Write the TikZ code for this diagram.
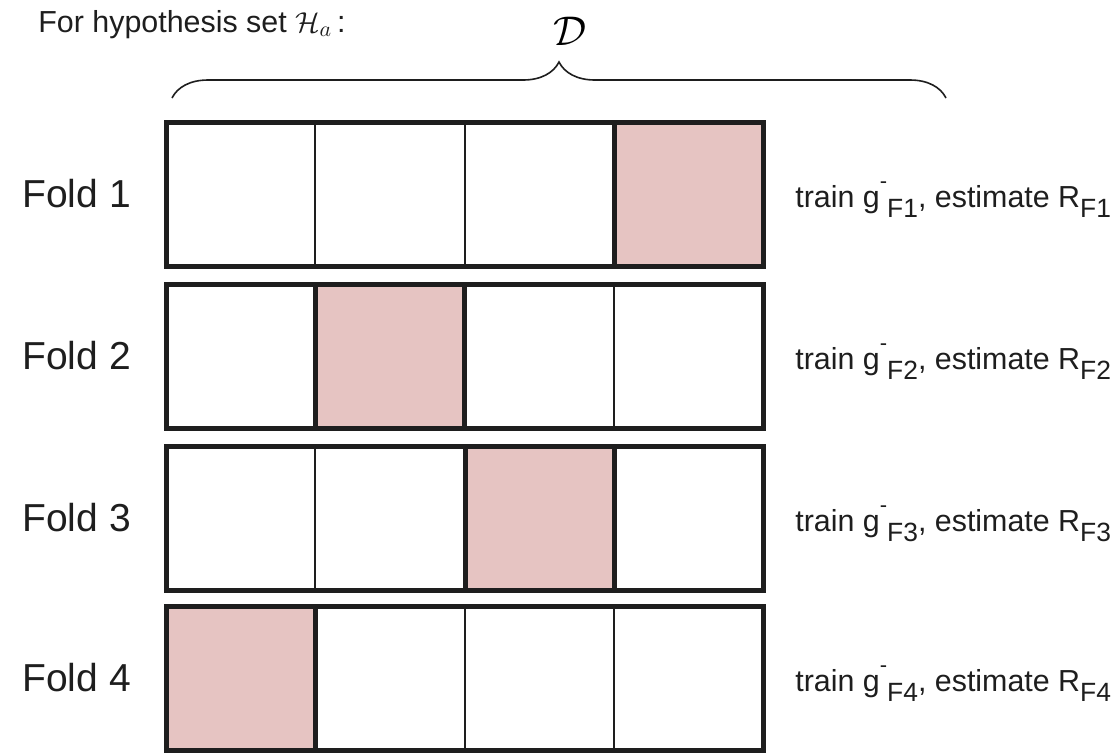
\documentclass[tikz,border=0pt]{standalone}
\usepackage{fontspec}
\setmainfont{Liberation Sans}
\usepackage{tikz}
\usetikzlibrary{decorations.pathreplacing}
\definecolor{foldpink}{RGB}{230, 196, 194}
\definecolor{inkgray}{RGB}{30, 30, 30}
\newcommand{\lowtxt}[1]{\raisebox{-5pt}{\fontsize{13.2}{15}\selectfont #1}}
\newcommand{\dashtxt}{\raisebox{9.5pt}{\fontsize{11}{13}\selectfont -}}

\begin{document}
\begin{tikzpicture}[
    x=0.5pt, y=-0.5pt,
    cell/.style={rectangle, draw=inkgray, line width=0.9pt, inner sep=0pt, outer sep=0pt,
                 minimum width=74.5pt, minimum height=72pt},
    held/.style={fill=foldpink, line width=2.5pt},
    rowbox/.style={rectangle, draw=inkgray, line width=2.5pt, inner sep=0pt, outer sep=0pt,
                   minimum width=298.5pt, minimum height=72pt},
    foldlbl/.style={anchor=west, inner sep=0pt, text=inkgray, font=\fontsize{19.5}{23}\selectfont},
    runlbl/.style={anchor=base west, inner sep=0pt, text=inkgray, font=\fontsize{15.2}{18}\selectfont},
    brc/.style={decorate, decoration={brace, amplitude=18pt}, line width=0.8pt, inkgray}
]
\useasboundingbox (0,0) rectangle (1116,752);

%% ── HEADER ──────────────────────────────────────────────────────────────────
\node[anchor=base west, inner sep=0pt, text=inkgray, font=\fontsize{15.2}{18}\selectfont]
     (hyp) at (38,32) {For hypothesis set $\mathcal{H}_a$\,:};
\node[inner sep=0pt, font=\fontsize{22}{26}\selectfont] (dset) at (570,31) {$\mathcal{D}$};
\coordinate (bl) at (172,98);
\coordinate (br) at (946,98);
\draw[brc] (bl) -- (br);

%% ── FOLDS ───────────────────────────────────────────────────────────────────
\foreach \r/\y/\h in {1/194/4, 2/356/2, 3/518/3, 4/678/1}{
  \node[rowbox] (row\r) at (464.5,\y) {};
  \foreach \c/\x in {1/240.5, 2/390, 3/539.5, 4/688.5}{
    \ifnum\c=\h
      \node[cell, held] (c\r\c) at (\x,\y) {};
    \else
      \node[cell] (c\r\c) at (\x,\y) {};
    \fi
  }
  \node[foldlbl] (fold\r) at (22,\y) {Fold \r};
  \node[runlbl] (run\r) at (795,\y+13)
       {train g\dashtxt\lowtxt{F\r}, estimate R\lowtxt{F\r}};
}

\end{tikzpicture}
\end{document}
